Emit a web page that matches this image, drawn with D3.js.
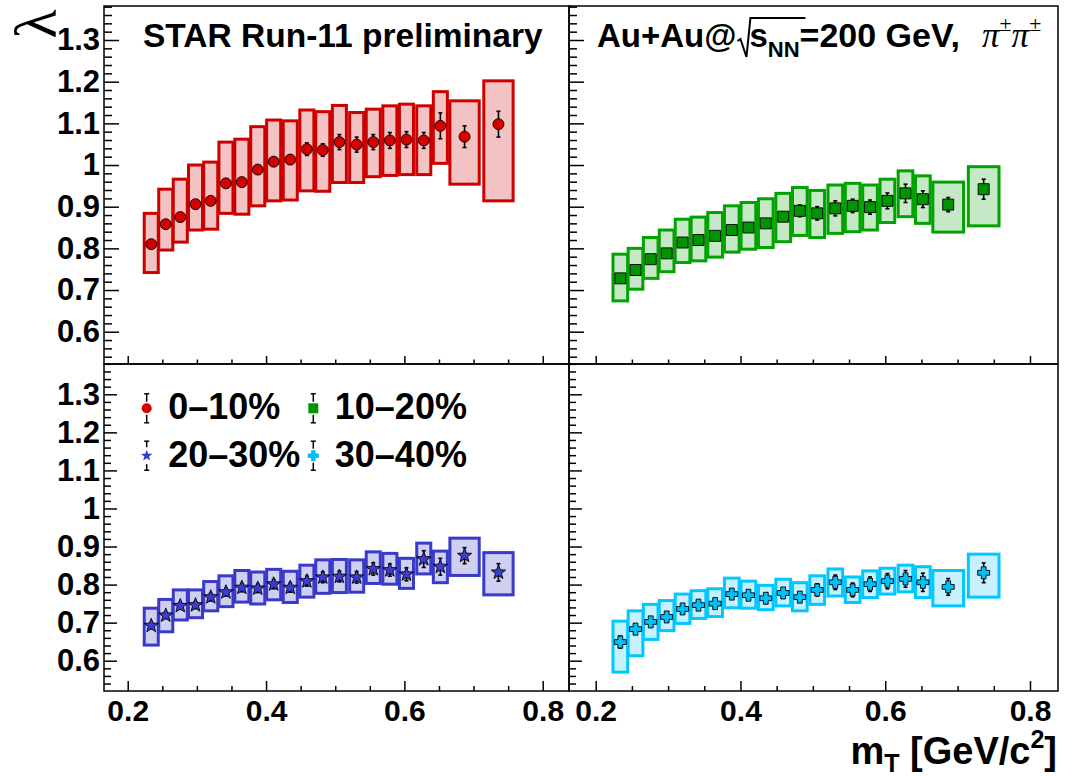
<!DOCTYPE html>
<html><head><meta charset="utf-8">
<script src="https://cdn.jsdelivr.net/npm/d3@7"></script>
<style>body{margin:0;background:#fff} svg{display:block}</style>
</head><body>
<svg id="c" width="1083" height="776"></svg>
<script>
// ---------------- data ----------------
const mT = [0.234,0.255,0.276,0.298,0.320,0.342,0.365,0.388,0.411,0.435,0.459,0.482,0.506,0.531,0.555,0.579,0.603,0.628,0.652,0.687,0.736];
const binWidth = [0.0203,0.0203,0.0203,0.0203,0.0203,0.0203,0.0203,0.0203,0.0203,0.0203,0.0203,0.0203,0.0203,0.0203,0.0203,0.0203,0.0203,0.0203,0.0203,0.0424,0.0424];

const lam0010 = [0.810,0.858,0.875,0.906,0.914,0.956,0.959,0.989,1.008,1.013,1.038,1.036,1.055,1.049,1.055,1.059,1.061,1.059,1.094,1.068,1.098];
const stat0010 = [0.006,0.006,0.007,0.007,0.008,0.008,0.008,0.009,0.010,0.011,0.015,0.015,0.018,0.018,0.018,0.019,0.019,0.019,0.031,0.026,0.031];
const sysLo0010 = [0.742,0.796,0.815,0.844,0.846,0.884,0.882,0.902,0.914,0.916,0.938,0.937,0.958,0.958,0.972,0.975,0.977,0.977,1.004,0.954,0.914];
const sysHi0010 = [0.884,0.942,0.966,1.000,1.007,1.055,1.062,1.092,1.108,1.106,1.132,1.128,1.143,1.126,1.134,1.142,1.146,1.142,1.176,1.154,1.202];

const lam1020 = [0.728,0.748,0.774,0.788,0.814,0.820,0.830,0.844,0.850,0.860,0.876,0.890,0.884,0.896,0.902,0.899,0.914,0.932,0.918,0.905,0.942];
const stat1020 = [0.005,0.005,0.006,0.006,0.007,0.007,0.008,0.008,0.009,0.010,0.011,0.014,0.016,0.018,0.016,0.017,0.019,0.022,0.020,0.017,0.024];
const sysLo1020 = [0.674,0.702,0.728,0.744,0.766,0.770,0.779,0.791,0.798,0.802,0.816,0.831,0.826,0.836,0.840,0.844,0.862,0.876,0.860,0.839,0.854];
const sysHi1020 = [0.786,0.800,0.826,0.844,0.870,0.875,0.886,0.902,0.910,0.919,0.932,0.946,0.939,0.952,0.956,0.952,0.966,0.986,0.974,0.959,0.996];

const lam2030 = [0.692,0.719,0.744,0.746,0.767,0.780,0.792,0.790,0.801,0.792,0.809,0.819,0.821,0.819,0.841,0.838,0.827,0.867,0.847,0.876,0.832];
const stat2030 = [0.008,0.008,0.009,0.009,0.010,0.010,0.011,0.011,0.012,0.012,0.013,0.014,0.014,0.015,0.016,0.016,0.017,0.022,0.022,0.021,0.023];
const sysLo2030 = [0.641,0.676,0.707,0.713,0.731,0.742,0.754,0.749,0.760,0.753,0.767,0.777,0.779,0.780,0.803,0.801,0.790,0.828,0.805,0.824,0.773];
const sysHi2030 = [0.738,0.761,0.786,0.786,0.808,0.823,0.837,0.833,0.840,0.835,0.851,0.865,0.866,0.865,0.886,0.882,0.869,0.909,0.888,0.922,0.884];

const lam3040 = [0.649,0.683,0.702,0.715,0.736,0.746,0.750,0.775,0.772,0.764,0.778,0.767,0.786,0.806,0.786,0.801,0.809,0.815,0.806,0.794,0.831];
const stat3040 = [0.016,0.014,0.010,0.010,0.010,0.010,0.011,0.011,0.011,0.012,0.012,0.013,0.016,0.019,0.018,0.019,0.020,0.022,0.024,0.022,0.026];
const sysLo3040 = [0.570,0.613,0.656,0.679,0.698,0.711,0.716,0.739,0.738,0.734,0.744,0.731,0.748,0.770,0.753,0.766,0.775,0.781,0.766,0.744,0.767];
const sysHi3040 = [0.704,0.731,0.748,0.758,0.775,0.784,0.789,0.817,0.809,0.798,0.814,0.805,0.823,0.841,0.820,0.836,0.843,0.851,0.847,0.837,0.880];

const centralityLabels = ["0\u201310%","10\u201320%","20\u201330%","30\u201340%"];
const xTickValues = [0.2,0.4,0.6,0.8];
const xTickLabels = ["0.2","0.4","0.6","0.8"];
const yTickValues = [0.6,0.7,0.8,0.9,1.0,1.1,1.2,1.3];
const yTickLabels = ["0.6","0.7","0.8","0.9","1","1.1","1.2","1.3"];

// ---------------- styles ----------------
const FONT = "'Liberation Sans', Arial, Helvetica, sans-serif";
const SERIF = "'Liberation Serif','Times New Roman',serif";
const seriesStyle = [
  {line:"#cc0000", fill:"#f3c3c3", mark:"#d40000", shape:"circle"},
  {line:"#00a300", fill:"#c6e8c6", mark:"#009400", shape:"square"},
  {line:"#3a3ac8", fill:"#cfcff2", mark:"#3c3cd0", shape:"star"},
  {line:"#00c8ff", fill:"#c8f1ff", mark:"#00c0f8", shape:"cross"}
];
const seriesData = [
  {lam:lam0010, stat:stat0010, lo:sysLo0010, hi:sysHi0010},
  {lam:lam1020, stat:stat1020, lo:sysLo1020, hi:sysHi1020},
  {lam:lam2030, stat:stat2030, lo:sysLo2030, hi:sysHi2030},
  {lam:lam3040, stat:stat3040, lo:sysLo3040, hi:sysHi3040}
];

const panels = [
  {s:0, x0:104, x1:569, y0:6,   y1:364, xd:[0.1657,0.838], yd:[0.5225,1.3816], yLab:true,  xLab:false, yMaj:15, yMin:8, xMaj:8,  xMin:4.5},
  {s:1, x0:569, x1:1058,y0:6,   y1:364, xd:[0.1631,0.8387],yd:[0.5225,1.3816], yLab:false, xLab:false, yMaj:15, yMin:8, xMaj:8,  xMin:4.5},
  {s:2, x0:104, x1:569, y0:364, y1:691, xd:[0.1657,0.838], yd:[0.5204,1.3796], yLab:true,  xLab:true,  yMaj:13, yMin:7, xMaj:10, xMin:5},
  {s:3, x0:569, x1:1058,y0:364, y1:691, xd:[0.1631,0.8387],yd:[0.5204,1.3796], yLab:false, xLab:true,  yMaj:13, yMin:7, xMaj:10, xMin:5}
];

const svg = d3.select("#c");
svg.append("rect").attr("width",1083).attr("height",776).attr("fill","#fff");

function markerPath(shape, size){
  if(shape==="circle") return d3.symbol().type(d3.symbolCircle).size(Math.PI*size*size/4)();
  if(shape==="square") return d3.symbol().type(d3.symbolSquare).size(size*size)();
  if(shape==="star"){
    const R=size/2, r=R*0.42; let p=[];
    for(let i=0;i<10;i++){const a=-Math.PI/2+i*Math.PI/5; const rr=i%2?r:R; p.push([rr*Math.cos(a), rr*Math.sin(a)]);}
    return "M"+p.map(q=>q.join(",")).join("L")+"Z";
  }
  if(shape==="cross"){
    const a=size/2, b=size*0.2;
    return `M${-b},${-a}H${b}V${-b}H${a}V${b}H${b}V${a}H${-b}V${b}H${-a}V${-b}H${-b}Z`;
  }
}
const markerSize = {circle:11, square:11, star:15, cross:12};

panels.forEach(P=>{
  const x = d3.scaleLinear().domain(P.xd).range([P.x0,P.x1]);
  const y = d3.scaleLinear().domain(P.yd).range([P.y1,P.y0]);
  const g = svg.append("g");
  const st = seriesStyle[P.s], D = seriesData[P.s];
  const idx = d3.range(mT.length);

  g.selectAll("rect.sys").data(idx).join("rect").attr("class","sys")
    .attr("x",i=>x(mT[i]-binWidth[i]/2)).attr("width",i=>x(mT[i]+binWidth[i]/2)-x(mT[i]-binWidth[i]/2))
    .attr("y",i=>y(D.hi[i])).attr("height",i=>y(D.lo[i])-y(D.hi[i]))
    .attr("fill",st.fill).attr("stroke",st.line).attr("stroke-width",3);

  const eb = g.selectAll("g.eb").data(idx).join("g").attr("class","eb");
  eb.append("line").attr("x1",i=>x(mT[i])).attr("x2",i=>x(mT[i]))
    .attr("y1",i=>y(D.lam[i]-D.stat[i])).attr("y2",i=>y(D.lam[i]+D.stat[i]))
    .attr("stroke","#000").attr("stroke-width",1.6);
  [-1,1].forEach(sg=>{
    eb.append("line").attr("x1",i=>x(mT[i])-2).attr("x2",i=>x(mT[i])+2)
      .attr("y1",i=>y(D.lam[i]+sg*D.stat[i])).attr("y2",i=>y(D.lam[i]+sg*D.stat[i]))
      .attr("stroke","#000").attr("stroke-width",1.6);
  });
  g.selectAll("path.mk").data(idx).join("path").attr("class","mk")
    .attr("d",markerPath(st.shape, markerSize[st.shape]))
    .attr("transform",i=>`translate(${x(mT[i])},${y(D.lam[i])})`)
    .attr("fill",st.mark).attr("stroke","#000").attr("stroke-width",0.9);

  svg.append("rect").attr("x",P.x0).attr("y",P.y0).attr("width",P.x1-P.x0).attr("height",P.y1-P.y0)
    .attr("fill","none").attr("stroke","#000").attr("stroke-width",1.5);

  const yMinor = d3.range(0.54,1.381,0.02).filter(v=>!yTickValues.some(t=>Math.abs(t-v)<1e-6));
  const ya = svg.append("g").attr("transform",`translate(${P.x0},0)`)
    .call(d3.axisLeft(y).tickValues(yTickValues).tickSize(-P.yMaj).tickPadding(4)
      .tickFormat((d,i)=>P.yLab?yTickLabels[i]:""));
  ya.select(".domain").remove();
  ya.selectAll("line").attr("stroke","#000").attr("stroke-width",1.5);
  ya.selectAll("text").attr("font-family",FONT).attr("font-weight","bold").attr("font-size",31).attr("fill","#000");
  const yam = svg.append("g").attr("transform",`translate(${P.x0},0)`)
    .call(d3.axisLeft(y).tickValues(yMinor).tickSize(-P.yMin).tickFormat(""));
  yam.select(".domain").remove();
  yam.selectAll("line").attr("stroke","#000").attr("stroke-width",1.5);

  const xMinor = d3.range(0.25,0.8,0.05).filter(v=>!xTickValues.some(t=>Math.abs(t-v)<1e-6));
  const xa = svg.append("g").attr("transform",`translate(0,${P.y1})`)
    .call(d3.axisBottom(x).tickValues(xTickValues).tickSize(-P.xMaj).tickPadding(9)
      .tickFormat((d,i)=>P.xLab?xTickLabels[i]:""));
  xa.select(".domain").remove();
  xa.selectAll("line").attr("stroke","#000").attr("stroke-width",1.5);
  xa.selectAll("text").attr("font-family",FONT).attr("font-weight","bold").attr("font-size",30).attr("fill","#000");
  const xam = svg.append("g").attr("transform",`translate(0,${P.y1})`)
    .call(d3.axisBottom(x).tickValues(xMinor).tickSize(-P.xMin).tickFormat(""));
  xam.select(".domain").remove();
  xam.selectAll("line").attr("stroke","#000").attr("stroke-width",1.5);
});

// titles
svg.append("text").attr("x",143).attr("y",47).text("STAR Run-11 preliminary")
  .attr("font-family",FONT).attr("font-weight","bold").attr("font-size",33.5);

let cx = 597;
function put(txt, x, y, size, opts={}){
  const t = svg.append("text").attr("x",x).attr("y",y).text(txt)
    .attr("font-family",opts.family||FONT).attr("font-weight",opts.weight||"bold").attr("font-size",size)
    .attr("font-style",opts.style||"normal");
  return t.node().getComputedTextLength();
}
cx += put("Au+Au@", cx, 47, 33);
const rx = cx+1;
svg.append("path").attr("d",`M${rx},41 L${rx+3},39 L${rx+9},57 L${rx+13},18 L${rx+68},18`)
  .attr("fill","none").attr("stroke","#000").attr("stroke-width",2);
cx = rx+12;
cx += put("s", cx, 47, 33);
cx += put("NN", cx, 57, 22);
cx += put("=200 GeV,", cx, 47, 34);
cx += 22;
cx += put("\u03c0", cx, 47, 35, {family:SERIF, weight:"normal", style:"italic"});
cx += put("\u00b1", cx, 31, 22, {family:SERIF, weight:"normal"});
cx += put("\u03c0", cx, 47, 35, {family:SERIF, weight:"normal", style:"italic"});
cx += put("\u00b1", cx, 31, 22, {family:SERIF, weight:"normal"});

// y axis title (lambda)
svg.append("text").attr("transform","translate(56,24) rotate(-90)")
  .attr("text-anchor","middle").attr("font-family",SERIF).attr("font-size",60).text("\u03bb");

// x axis title
const xt = svg.append("text").attr("x",1057).attr("y",764).attr("text-anchor","end")
  .attr("font-family",FONT).attr("font-weight","bold").attr("font-size",38);
xt.append("tspan").text("m");
xt.append("tspan").attr("font-size",25).attr("dy",8).text("T");
xt.append("tspan").attr("dy",-8).text(" [GeV/c");
xt.append("tspan").attr("font-size",25).attr("dy",-16).text("2");
xt.append("tspan").attr("dy",16).text("]");

// legend
const legPos = [[146.7,408.3],[313.3,408.3],[146.7,455.7],[313.3,455.7]];
legPos.forEach((p,k)=>{
  const st = seriesStyle[k];
  const g = svg.append("g").attr("transform",`translate(${p[0]},${p[1]})`);
  g.append("line").attr("x1",0).attr("x2",0).attr("y1",-14.5).attr("y2",14.5).attr("stroke","#000").attr("stroke-width",1.5);
  [-14.5,14.5].forEach(yy=>g.append("line").attr("x1",-2.5).attr("x2",2.5).attr("y1",yy).attr("y2",yy).attr("stroke","#000").attr("stroke-width",1.5));
  const sz = markerSize[st.shape];
  g.append("rect").attr("x",-sz/2-1).attr("y",-sz/2-1).attr("width",sz+2).attr("height",sz+2).attr("fill","#fff");
  g.append("path").attr("d",markerPath(st.shape, st.shape==="star"?12:(st.shape==="cross"?11:10)))
    .attr("fill",st.mark);
  svg.append("text").attr("x",p[0]+21.5).attr("y",p[1]+11).text(centralityLabels[k])
    .attr("font-family",FONT).attr("font-weight","bold").attr("font-size",36);
});
</script>
</body></html>
